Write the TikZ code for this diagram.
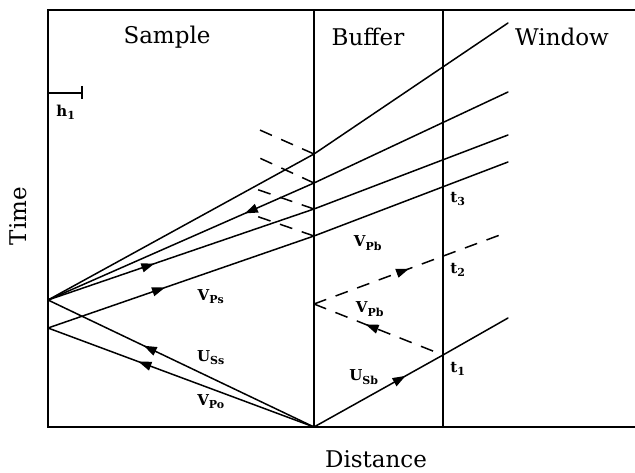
\documentclass[tikz,border=0pt]{standalone}
\usepackage{fontspec}
\setmainfont{DejaVu Serif}
\usetikzlibrary{arrows.meta,decorations.markings}
\tikzset{
  wave/.style={line width=1.5pt, line cap=round},
  refl/.style={line width=1.5pt, dash pattern=on 13pt off 10pt},
  frame/.style={line width=1.7pt},
  fwd/.style={postaction={decorate,decoration={markings,mark=at position #1 with {\arrow{Triangle[length=13pt,width=9pt]}}}}},
  bwd/.style={postaction={decorate,decoration={markings,mark=at position #1 with {\arrowreversed{Triangle[length=13pt,width=9pt]}}}}},
  region/.style={font=\fontsize{23}{26}\selectfont, inner sep=0pt},
  lbl/.style={font=\bfseries\fontsize{15}{17}\selectfont, inner sep=0pt},
}
\newcommand{\wsub}[2]{#1\textsubscript{\fontsize{11}{12}\selectfont #2}}
\begin{document}
\begin{tikzpicture}[x=1pt,y=-1pt]
\useasboundingbox (0,0) rectangle (635,473);
% frame corners
\coordinate (TL) at (48,10);
\coordinate (BL) at (48,427);
\coordinate (TR) at (635,10);
\coordinate (BR) at (635,427);
\coordinate (S1) at (314,10);
\coordinate (C) at (314,427);
\coordinate (S2) at (443,10);
\coordinate (S2b) at (443,427);
\draw[frame] (TR) -- (TL) -- (BL) -- (BR);
\draw[frame] (S1) -- (C);
\draw[frame] (S2) -- (S2b);
% h1 marker
\coordinate (H0) at (48,93);
\coordinate (H1) at (82,93);
\coordinate (H1a) at (82,86);
\coordinate (H1b) at (82,99);
\draw[frame] (H0) -- (H1);
\draw[frame] (H1a) -- (H1b);
\node[lbl] (h1) at (66,112) {\wsub{h}{1}};
% region titles
\node[region] (sample) at (167,37) {Sample};
\node[region] (buffer) at (368,37) {Buffer};
\node[region] (window) at (562,37) {Window};
\node[region, rotate=90] (time) at (18,216) {Time};
\node[region] (dist) at (376,459) {Distance};
% key points
\coordinate (A) at (48,300);
\coordinate (B) at (48,328);
\coordinate (P1) at (314,154);
\coordinate (P2) at (314,183);
\coordinate (P3) at (314,209);
\coordinate (P4) at (314,236);
\coordinate (E1) at (508,23);
\coordinate (E2) at (508,92);
\coordinate (E3) at (508,135);
\coordinate (E4) at (508,162);
\coordinate (D1) at (253,127);
\coordinate (D2) at (253,155);
\coordinate (D3) at (253,188);
\coordinate (D4) at (256,216);
\coordinate (Q) at (314,304);
\coordinate (T1) at (443,355);
\coordinate (F) at (508,232);
\coordinate (G) at (508,318);
% waves in sample
\draw[wave, bwd=0.36] (A) -- (C);
\draw[wave, bwd=0.34] (B) -- (C);
\draw[wave] (A) -- (P1);
\draw[wave, bwd=0.74] (A) -- (P2);
\draw[wave, fwd=0.40] (A) -- (P3);
\draw[wave, fwd=0.44] (B) -- (P4);
% waves beyond
\draw[wave] (P1) -- (E1);
\draw[wave] (P2) -- (E2);
\draw[wave] (P3) -- (E3);
\draw[wave] (P4) -- (E4);
% reflections
\draw[refl] (P1) -- (D1);
\draw[refl] (P2) -- (D2);
\draw[refl] (P3) -- (D3);
\draw[refl] (P4) -- (D4);
% buffer waves
\draw[wave, fwd=0.71] (C) -- (T1);
\draw[wave] (T1) -- (G);
\draw[refl, bwd=0.40] (Q) -- (T1);
\draw[refl, fwd=0.49] (Q) -- (F);
% labels
\node[lbl] (vps) at (211,297) {\wsub{V}{Ps}};
\node[lbl] (uss) at (211,358) {\wsub{U}{Ss}};
\node[lbl] (vpo) at (211,402) {\wsub{V}{Po}};
\node[lbl] (vpb1) at (368,243) {\wsub{V}{Pb}};
\node[lbl] (vpb2) at (370,309) {\wsub{V}{Pb}};
\node[lbl] (usb) at (364,377) {\wsub{U}{Sb}};
\node[lbl] (t3) at (458,199) {\wsub{t}{3}};
\node[lbl] (t2) at (458,270) {\wsub{t}{2}};
\node[lbl] (t1) at (458,369) {\wsub{t}{1}};
\end{tikzpicture}
\end{document}
